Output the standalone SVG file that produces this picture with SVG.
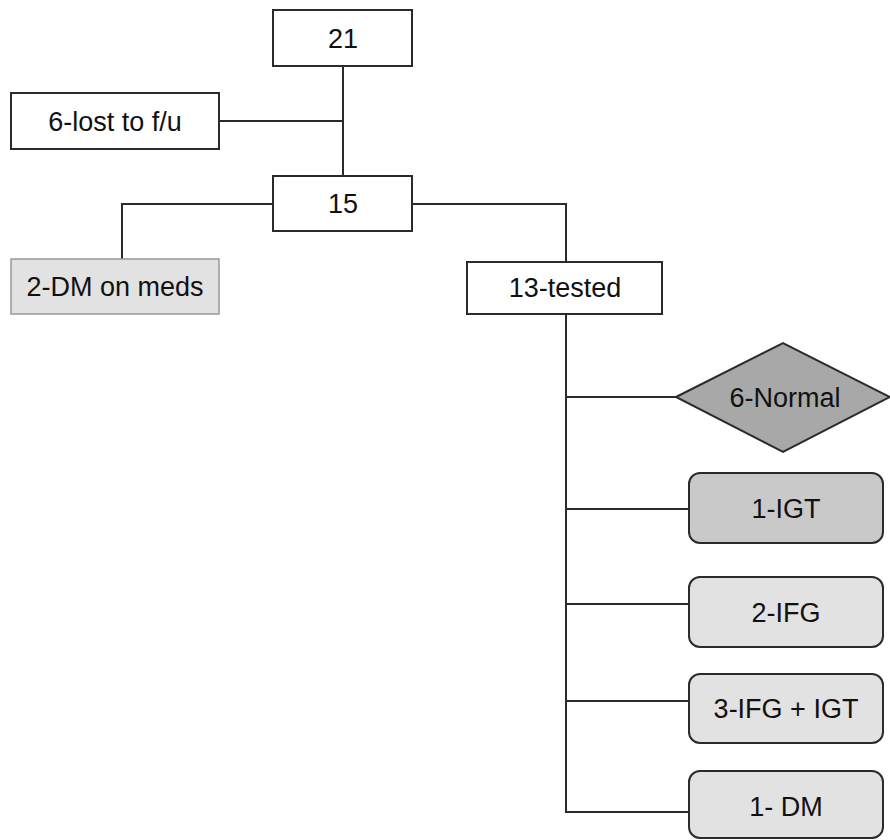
<svg xmlns="http://www.w3.org/2000/svg" width="890" height="840" viewBox="0 0 890 840">
<style>
.b{stroke:#2b2b2b;stroke-width:2}
.w{fill:#ffffff}
.g1{fill:#e2e2e2}
.g2{fill:#c9c9c9}
.g3{fill:#a8a8a8}
.c{fill:none;stroke:#2b2b2b;stroke-width:2}
text{font-family:"Liberation Sans",Arial,sans-serif;font-size:27px;fill:#111;text-anchor:middle}
</style>
<rect width="890" height="840" fill="#ffffff"/>
<g id="connectors">
<path class="c" d="M343 66V176"/>
<path class="c" d="M219 121H343"/>
<path class="c" d="M273 204H122V259"/>
<path class="c" d="M412 204H566V263"/>
<path class="c" d="M566 314V812H689"/>
<path class="c" d="M566 397H676"/>
<path class="c" d="M566 509H689"/>
<path class="c" d="M566 604H689"/>
<path class="c" d="M566 701H689"/>
</g>
<g id="n21"><rect class="b w" x="273" y="10" width="139" height="56"/><text x="343" y="48">21</text></g>
<g id="nlost"><rect class="b w" x="11" y="93" width="208" height="56"/><text x="115" y="131">6-lost to f/u</text></g>
<g id="n15"><rect class="b w" x="273" y="176" width="139" height="55"/><text x="343" y="213">15</text></g>
<g id="ndm"><rect class="g1" x="11" y="259" width="208" height="55" stroke="#999" stroke-width="1.5"/><text x="115" y="296">2-DM on meds</text></g>
<g id="ntested"><rect class="b w" x="467" y="262" width="195" height="52"/><text x="565" y="297">13-tested</text></g>
<g id="nnormal"><polygon class="b g3" points="676,397 783,343 890,397 783,452"/><text x="785" y="407">6-Normal</text></g>
<g id="nigt"><rect class="b g2" x="689" y="473" width="194" height="70" rx="11"/><text x="786" y="518">1-IGT</text></g>
<g id="nifg"><rect class="b g1" x="689" y="577" width="194" height="70" rx="11"/><text x="786" y="622">2-IFG</text></g>
<g id="nifgigt"><rect class="b g1" x="689" y="674" width="194" height="69" rx="11"/><text x="786" y="718">3-IFG + IGT</text></g>
<g id="ndm2"><rect class="b g1" x="689" y="771" width="194" height="67" rx="11"/><text x="786" y="816">1- DM</text></g>
</svg>
